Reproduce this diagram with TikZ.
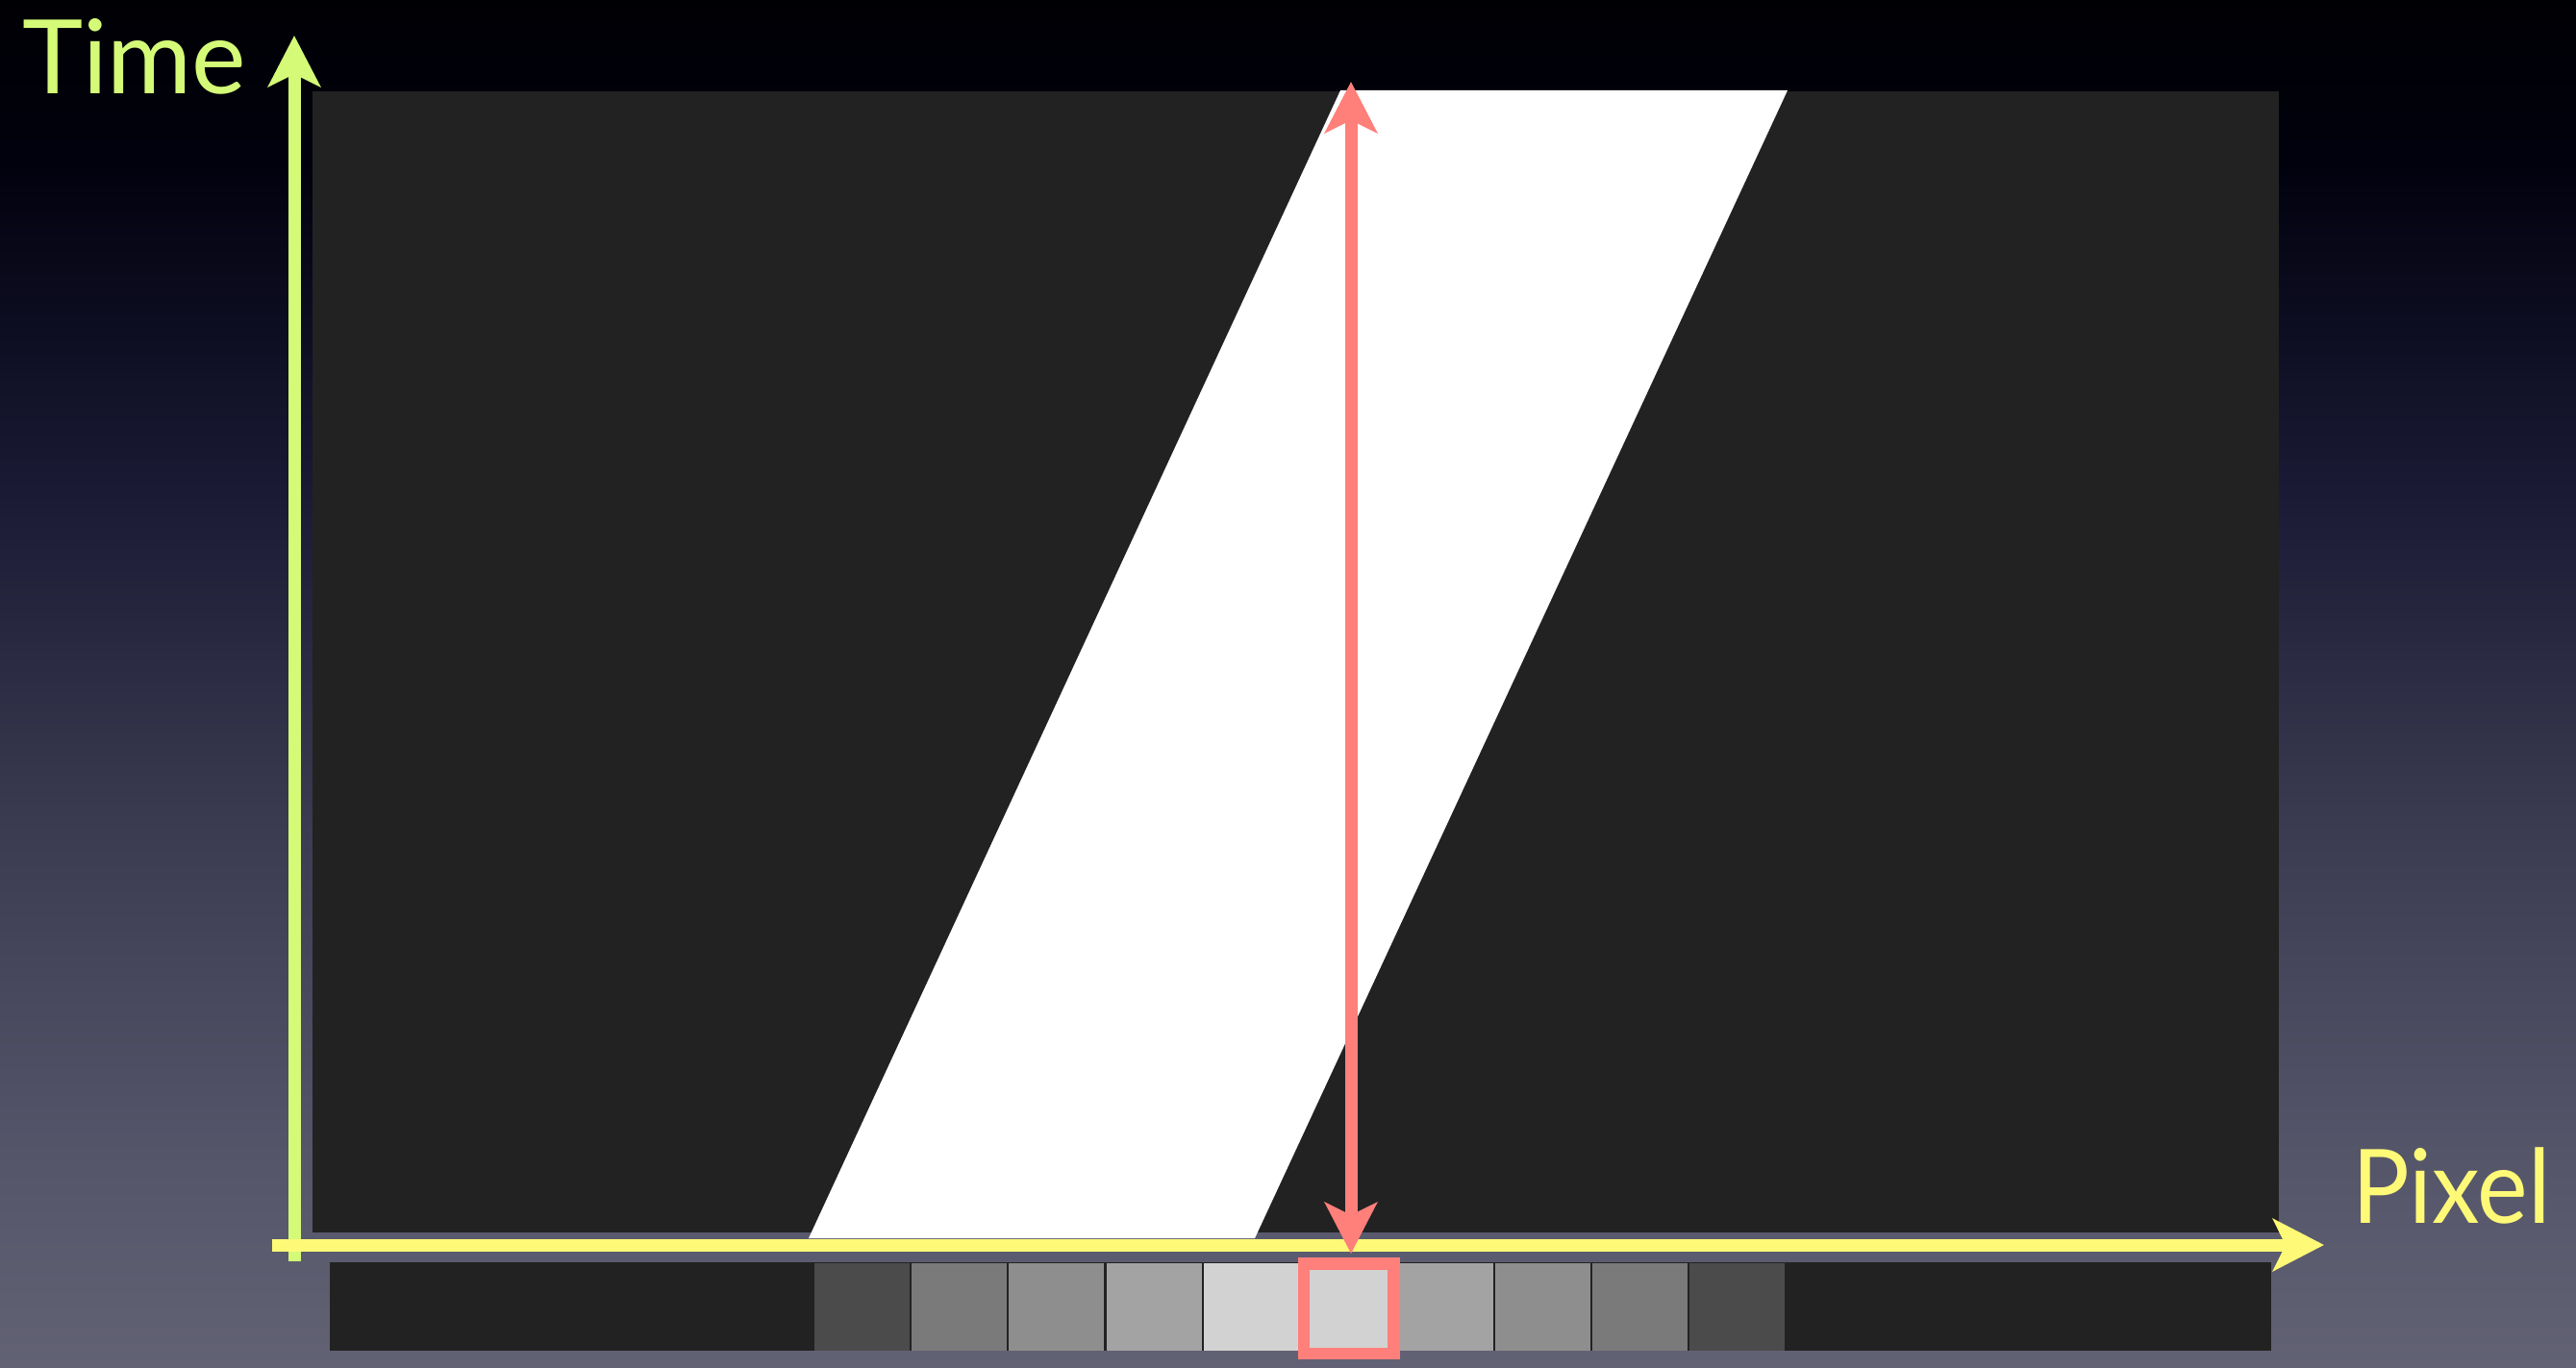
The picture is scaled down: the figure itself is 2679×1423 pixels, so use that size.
\documentclass[tikz,border=0pt]{standalone}
\usepackage{fontspec}
\setmainfont{Lato}
\usetikzlibrary{arrows.meta}
\definecolor{bgA}{HTML}{626274}
\definecolor{bgB}{HTML}{55556A}
\definecolor{bgC}{HTML}{3A3A50}
\definecolor{bgD}{HTML}{1A1A35}
\definecolor{bgE}{HTML}{01010E}
\definecolor{bgF}{HTML}{000004}
\definecolor{panel}{HTML}{222222}
\definecolor{tgreen}{HTML}{D4FA78}
\definecolor{tyellow}{HTML}{FEFA77}
\definecolor{tred}{HTML}{FF7F7A}
\definecolor{gA}{HTML}{4B4B4B}
\definecolor{gB}{HTML}{7A7A7A}
\definecolor{gC}{HTML}{8E8E8E}
\definecolor{gD}{HTML}{A3A3A3}
\definecolor{gE}{HTML}{D2D2D2}
\pgfdeclareverticalshading{bgshade}{100bp}{color(0bp)=(bgA); color(25bp)=(bgA); color(32.9bp)=(bgB); color(45bp)=(bgC); color(57bp)=(bgD); color(69bp)=(bgE); color(75bp)=(bgF); color(100bp)=(bgF)}
\tikzset{
  bigarrow/.style={line width=13pt, line cap=butt},
  tipA/.style={-{Stealth[length=53pt,width=54pt,inset=13pt]}},
  tipAB/.style={{Stealth[length=53pt,width=54pt,inset=13pt]}-{Stealth[length=53pt,width=54pt,inset=13pt]}},
  lbl/.style={inner sep=0pt, font=\fontsize{107pt}{110pt}\selectfont},
  cell/.style={draw=none, inner sep=0pt, minimum width=99pt, minimum height=91pt, anchor=north west},
}
\begin{document}
\begin{tikzpicture}[x=1pt,y=1pt]
\useasboundingbox (0,0) rectangle (2679,-1423);
\shade[shading=bgshade] (0,0) rectangle (2679,-1423);
% dark panel
\fill[panel] (325,-95) rectangle (2370,-1282);
% white band
\fill[white] (1394,-94) -- (1859,-94) -- (1305,-1288) -- (841,-1288) -- cycle;
% strip
\node[cell, fill=panel, minimum width=2019pt, minimum height=92pt] (strip) at (343,-1313) {};
\foreach \c [count=\i from 0] in {gA,gB,gC,gD,gE,gE,gD,gC,gB,gA}{
  \node[cell, fill=\c] (c\i) at ({847+101.1*\i},-1314) {};
}
% red box around cell 5
\draw[tred, line width=12.5pt] (1356,-1314.5) rectangle (1449.5,-1408);
% axes
\coordinate (tbot) at (306,-1312);
\coordinate (ttop) at (306,-37);
\coordinate (pleft) at (283,-1295);
\coordinate (pright) at (2417,-1295);
\draw[bigarrow, tipA, tgreen] (tbot) -- (ttop);
\draw[bigarrow, tipA, tyellow] (pleft) -- (pright);
% red arrow
\coordinate (rtop) at (1405,-85);
\coordinate (rbot) at (1405,-1304);
\draw[bigarrow, tipAB, tred] (rtop) -- (rbot);
% labels
\node[lbl, text=tgreen, anchor=base west] (time) at (23,-98) {Time};
\node[lbl, text=tyellow, anchor=base west, xscale=0.93, transform shape] (pixel) at (2446,-1272) {Pixel};
\end{tikzpicture}
\end{document}
